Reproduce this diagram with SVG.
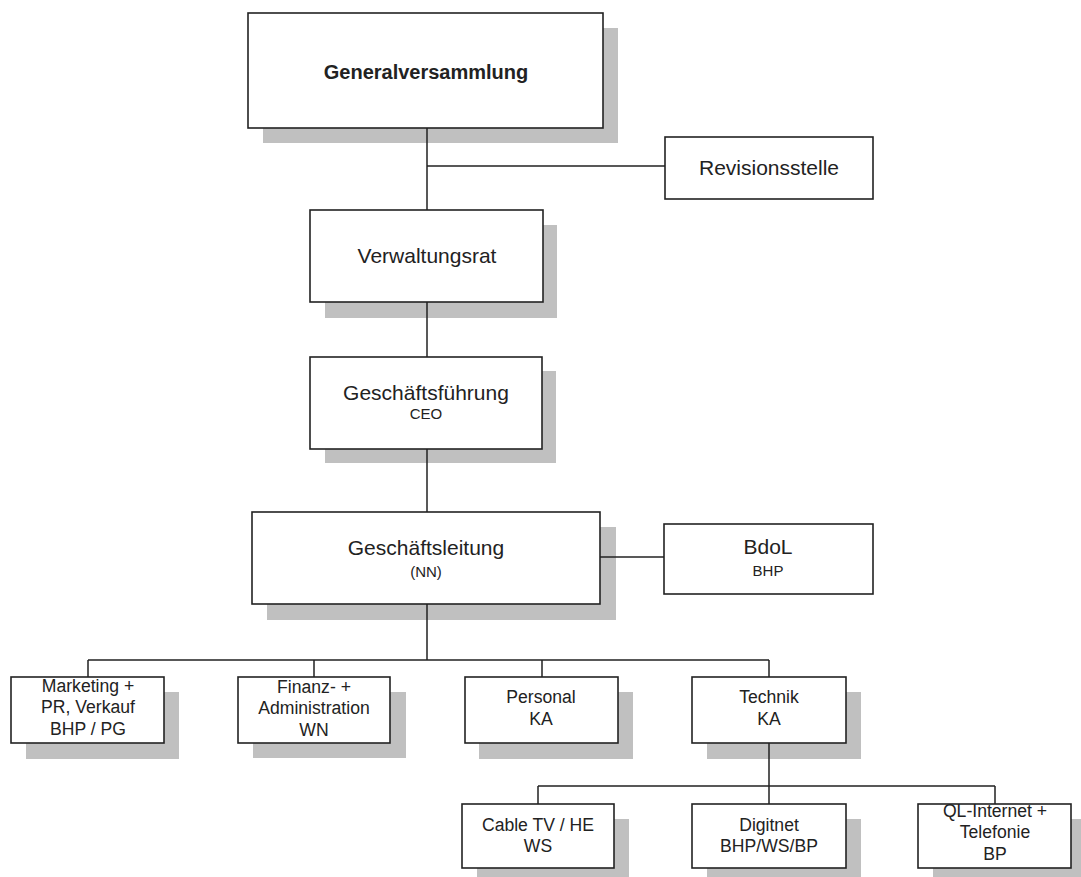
<svg xmlns="http://www.w3.org/2000/svg" width="1081" height="877" viewBox="0 0 1081 877">
<style>
.sh{fill:#c0c0c0;stroke:none}
.bx{fill:#fff;stroke:#222;stroke-width:1.6}
text{font-family:"Liberation Sans",Arial,sans-serif;fill:#222;text-anchor:middle}
.big{font-size:21px}
.sub{font-size:15px}
.mid{font-size:17.6px}
.cn{fill:none;stroke:#222;stroke-width:1.5}
</style>
<rect width="1081" height="877" fill="#fff"/>
<g id="generalversammlung">
<rect class="sh" x="263" y="28" width="355" height="115"/>
<rect class="bx" x="248" y="13" width="355" height="115"/>
<text x="426" y="79" style="font-size:20px;font-weight:bold">Generalversammlung</text>
</g>
<g id="revisionsstelle">
<rect class="bx" x="665" y="137" width="208" height="62"/>
<text class="big" x="769" y="175">Revisionsstelle</text>
</g>
<g id="verwaltungsrat">
<rect class="sh" x="325" y="225" width="232" height="93"/>
<rect class="bx" x="310" y="210" width="233" height="92"/>
<text class="big" x="427" y="263">Verwaltungsrat</text>
</g>
<g id="geschaeftsfuehrung">
<rect class="sh" x="325" y="371" width="231" height="92"/>
<rect class="bx" x="310" y="357" width="232" height="92"/>
<text class="big" x="426" y="400">Geschäftsführung</text>
<text class="sub" x="426" y="419">CEO</text>
</g>
<g id="geschaeftsleitung">
<rect class="sh" x="267" y="527" width="349" height="93"/>
<rect class="bx" x="252" y="512" width="348" height="92"/>
<text class="big" x="426" y="555">Geschäftsleitung</text>
<text class="sub" x="426" y="577">(NN)</text>
</g>
<g id="bdol">
<rect class="bx" x="664" y="524" width="209" height="70"/>
<text class="big" x="768" y="554">BdoL</text>
<text class="sub" x="768" y="576">BHP</text>
</g>
<g id="marketing">
<rect class="sh" x="26" y="692" width="153" height="67"/>
<rect class="bx" x="11" y="677" width="153" height="66"/>
<text class="mid" x="88" y="692">Marketing +</text>
<text class="mid" x="88" y="713">PR, Verkauf</text>
<text class="mid" x="88" y="735">BHP / PG</text>
</g>
<g id="finanz">
<rect class="sh" x="253" y="692" width="153" height="66"/>
<rect class="bx" x="238" y="677" width="152" height="66"/>
<text class="mid" x="314" y="693">Finanz- +</text>
<text class="mid" x="314" y="714">Administration</text>
<text class="mid" x="314" y="736">WN</text>
</g>
<g id="personal">
<rect class="sh" x="479" y="692" width="154" height="67"/>
<rect class="bx" x="465" y="677" width="153" height="66"/>
<text class="mid" x="541" y="703">Personal</text>
<text class="mid" x="541" y="725">KA</text>
</g>
<g id="technik">
<rect class="sh" x="707" y="692" width="154" height="67"/>
<rect class="bx" x="692" y="677" width="154" height="66"/>
<text class="mid" x="769" y="703">Technik</text>
<text class="mid" x="769" y="725">KA</text>
</g>
<g id="cabletv">
<rect class="sh" x="477" y="819" width="152" height="64"/>
<rect class="bx" x="462" y="804" width="152" height="64"/>
<text class="mid" x="538" y="831">Cable TV / HE</text>
<text class="mid" x="538" y="852">WS</text>
</g>
<g id="digitnet">
<rect class="sh" x="707" y="819" width="154" height="64"/>
<rect class="bx" x="692" y="804" width="154" height="64"/>
<text class="mid" x="769" y="831">Digitnet</text>
<text class="mid" x="769" y="852">BHP/WS/BP</text>
</g>
<g id="qlinternet">
<rect class="sh" x="933" y="819" width="153" height="64"/>
<rect class="bx" x="918" y="804" width="153" height="64"/>
<text class="mid" x="995" y="817">QL-Internet +</text>
<text class="mid" x="995" y="838">Telefonie</text>
<text class="mid" x="995" y="860">BP</text>
</g>
<g id="connectors">
<path class="cn" d="M427 128V210M427 166H665"/>
<path class="cn" d="M427 302V357"/>
<path class="cn" d="M427 449V512"/>
<path class="cn" d="M600 557H664"/>
<path class="cn" d="M427 604V660M88 660H769M88 660V677M314 660V677M542 660V677M769 660V677"/>
<path class="cn" d="M769 743V804M538 786H995M538 786V804M995 786V804"/>
</g>
</svg>
